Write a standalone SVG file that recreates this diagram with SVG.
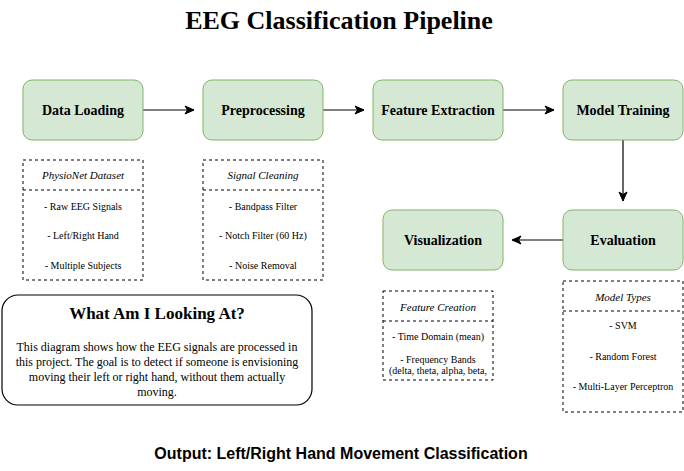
<svg xmlns="http://www.w3.org/2000/svg" width="684" height="471" viewBox="0 0 684 471">
<style>
.bg{fill:#ffffff}
.node rect{fill:#d5e8d4;stroke:#82b366;stroke-width:1}
.node text{font-family:"Liberation Serif",serif;font-weight:bold;font-size:14px;fill:#000;text-anchor:middle}
.note rect,.note line{fill:none;stroke:#000;stroke-width:1;stroke-dasharray:3 3}
.note text{font-family:"Liberation Serif",serif;font-size:10px;fill:#000;text-anchor:middle}
.note text.h{font-style:italic;font-size:11px}
.conn path{fill:none;stroke:#000;stroke-width:1.2}
.title{font-family:"Liberation Serif",serif;font-weight:bold;font-size:26px;text-anchor:middle;fill:#000}
.info rect{fill:#fff;stroke:#000;stroke-width:1.2}
.info text{font-family:"Liberation Serif",serif;font-size:12px;text-anchor:middle;fill:#000}
.info text.h{font-weight:bold;font-size:17px}
.out{font-family:"Liberation Sans",sans-serif;font-weight:bold;font-size:16px;text-anchor:middle;fill:#000}
</style>
<defs>
<marker id="arr" markerWidth="12" markerHeight="12" refX="10" refY="6" orient="auto" markerUnits="userSpaceOnUse">
<path d="M1,2 L10,6 L1,10 L3.5,6 Z" fill="#000" stroke="#000" stroke-width="1"/>
</marker>
</defs>
<rect class="bg" x="0" y="0" width="684" height="471"/>
<text class="title" x="339" y="29">EEG Classification Pipeline</text>

<g id="conn" class="conn">
<path d="M143,110 L194,110" marker-end="url(#arr)"/>
<path d="M323,110 L364,110" marker-end="url(#arr)"/>
<path d="M503,110 L554,110" marker-end="url(#arr)"/>
<path d="M623,140 L623,201" marker-end="url(#arr)"/>
<path d="M563,240 L512,240" marker-end="url(#arr)"/>
</g>

<g id="data-loading" class="node"><rect x="23" y="80" width="120" height="60" rx="9"/><text x="83" y="115">Data Loading</text></g>
<g id="preprocessing" class="node"><rect x="203" y="80" width="120" height="60" rx="9"/><text x="263" y="115">Preprocessing</text></g>
<g id="feature-extraction" class="node"><rect x="373" y="80" width="130" height="60" rx="9"/><text x="438" y="115">Feature Extraction</text></g>
<g id="model-training" class="node"><rect x="563" y="80" width="120" height="60" rx="9"/><text x="623" y="115">Model Training</text></g>
<g id="visualization" class="node"><rect x="383" y="210" width="120" height="60" rx="9"/><text x="443" y="245">Visualization</text></g>
<g id="evaluation" class="node"><rect x="563" y="210" width="120" height="60" rx="9"/><text x="623" y="245">Evaluation</text></g>

<g id="physionet" class="note">
<rect x="23" y="160" width="120" height="120"/><line x1="23" y1="190" x2="143" y2="190"/>
<text class="h" x="83" y="179">PhysioNet Dataset</text>
<text x="83" y="209.5">- Raw EEG Signals</text>
<text x="83" y="238.5">- Left/Right Hand</text>
<text x="83" y="268.5">- Multiple Subjects</text>
</g>
<g id="signal-cleaning" class="note">
<rect x="203" y="160" width="120" height="120"/><line x1="203" y1="190" x2="323" y2="190"/>
<text class="h" x="263" y="179">Signal Cleaning</text>
<text x="263" y="209.5">- Bandpass Filter</text>
<text x="263" y="238.5">- Notch Filter (60 Hz)</text>
<text x="263" y="268.5">- Noise Removal</text>
</g>
<g id="feature-creation" class="note">
<rect x="383" y="291" width="110" height="89"/><line x1="383" y1="321" x2="493" y2="321"/>
<text class="h" x="438" y="310.5">Feature Creation</text>
<text x="438" y="339.5">- Time Domain (mean)</text>
<text x="438" y="362.5">- Frequency Bands</text>
<text x="438" y="373.5">(delta, theta, alpha, beta,</text>
</g>
<g id="model-types" class="note">
<rect x="563" y="281" width="120" height="131"/><line x1="563" y1="311" x2="683" y2="311"/>
<text class="h" x="623" y="300.5">Model Types</text>
<text x="623" y="328.5">- SVM</text>
<text x="623" y="359.5">- Random Forest</text>
<text x="623" y="389.5">- Multi-Layer Perceptron</text>
</g>

<g id="info" class="info">
<rect x="2" y="295" width="310" height="110" rx="16"/>
<text class="h" x="157" y="319">What Am I Looking At?</text>
<text x="157" y="351">This diagram shows how the EEG signals are processed in</text>
<text x="157" y="366">this project. The goal is to detect if someone is envisioning</text>
<text x="157" y="381">moving their left or right hand, without them actually</text>
<text x="157" y="396">moving.</text>
</g>

<text class="out" x="341" y="459">Output: Left/Right Hand Movement Classification</text>
</svg>
